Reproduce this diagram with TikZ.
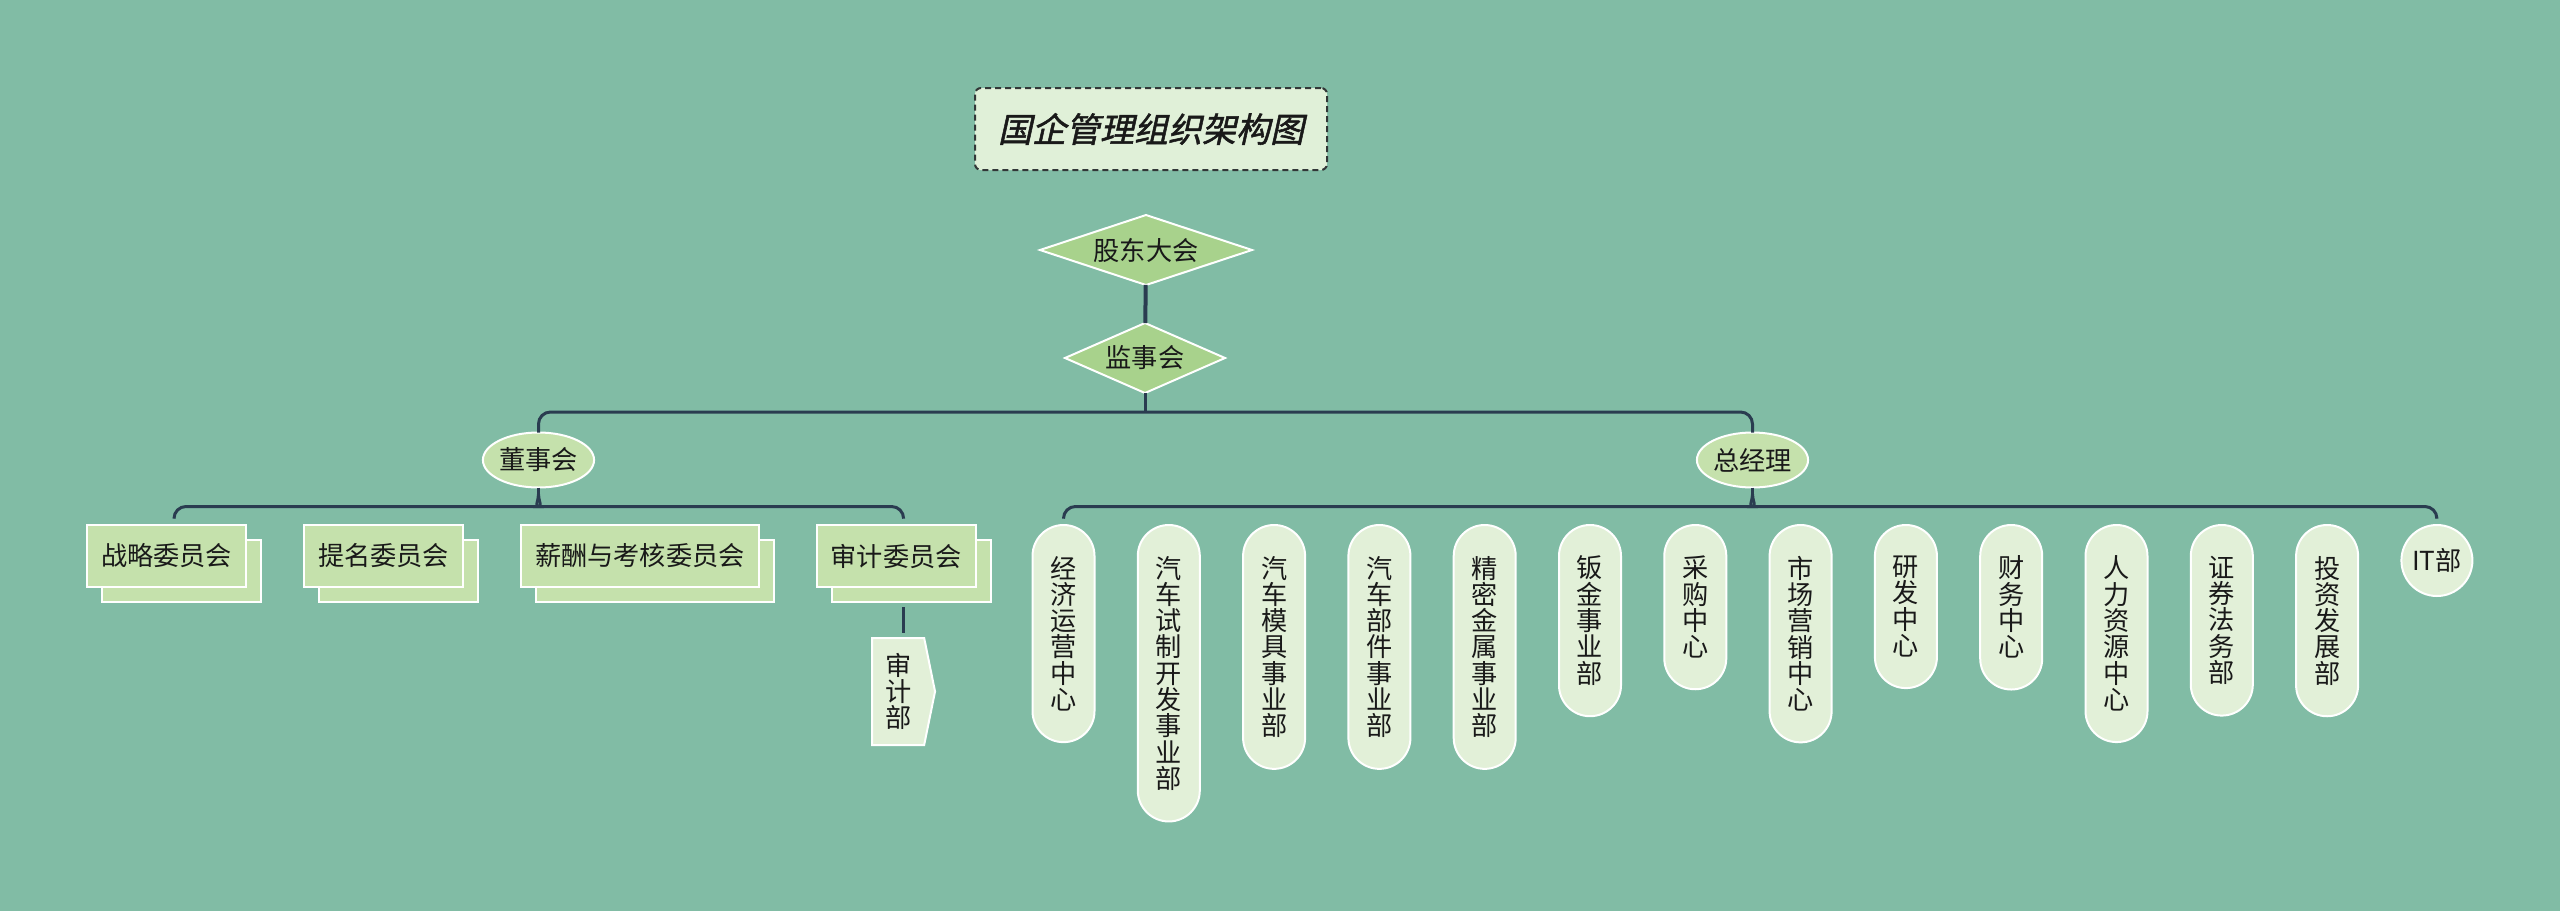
\documentclass[tikz,border=0pt]{standalone}
\usepackage{fontspec}
\setmainfont{Noto Sans CJK SC}
\newfontfamily\titlefont[FakeSlant=0.22,FakeBold=1.5]{Noto Sans CJK SC}
\usetikzlibrary{positioning,shapes.geometric,shapes.symbols,shadows}
\definecolor{bgteal}{RGB}{129,188,165}
\definecolor{rhombgreen}{RGB}{168,210,140}
\definecolor{ovalgreen}{RGB}{197,225,172}
\definecolor{pillgreen}{RGB}{226,240,216}
\definecolor{titlegreen}{RGB}{224,240,216}
\definecolor{titledark}{RGB}{50,55,55}
\definecolor{linknavy}{RGB}{42,60,80}
\definecolor{inkblack}{RGB}{25,25,25}
\tikzset{
  box/.style={draw=white,line width=1pt,outer sep=0pt,align=center,text=inkblack,
    font=\fontsize{13.1}{13.15}\selectfont},
  rhomb/.style={box,diamond,fill=rhombgreen,inner sep=0pt},
  oval/.style={box,ellipse,fill=ovalgreen,inner sep=0pt,minimum width=55.5pt,minimum height=27.5pt},
  committee/.style={box,fill=ovalgreen,minimum height=31pt,inner xsep=7pt,inner ysep=0pt,
    copy shadow={shadow xshift=7.5pt,shadow yshift=-7.25pt,fill=ovalgreen,draw=white,line width=1pt}},
  pill/.style={box,fill=pillgreen,rounded corners=15.5pt,minimum width=31pt,inner xsep=0pt,inner ysep=15.5pt},
  itbox/.style={box,circle,fill=pillgreen,minimum size=35.5pt,inner sep=0pt},
  arrowbox/.style={box,signal,signal to=east,signal pointer angle=157,fill=pillgreen,
    minimum width=31.5pt,minimum height=53.5pt,inner sep=0pt},
  headline/.style={draw=titledark,line width=1pt,dash pattern=on 3pt off 2pt,rounded corners=3pt,
    fill=titlegreen,minimum width=176pt,minimum height=41pt,text=inkblack,
    font=\titlefont\fontsize{17}{17}\selectfont},
  link/.style={draw=linknavy,line width=1.5pt}
}
\begin{document}
\begin{tikzpicture}[x=0.5pt,y=-0.5pt]
\fill[bgteal] (0,0) rectangle (2560,911);
\node[headline] (title) at (1151,129) {国企管理组织架构图};
\node[rhomb,minimum width=106pt,minimum height=35pt,aspect=3] (gdh) at (1146,250) {股东大会};
\node[rhomb,minimum width=80pt,minimum height=35pt,aspect=2.3] (jsh) at (1145,358) {监事会};
\node[oval] (dsh) at (538.5,460) {董事会};
\node[oval] (zjl) at (1752.5,460) {总经理};
% committees under the board
\node[committee] (zl) at (166.5,556) {战略委员会};
\node[committee,right=29pt of zl] (tm) {提名委员会};
\node[committee,right=29pt of tm] (xc) {薪酬与考核委员会};
\node[committee,right=29pt of xc] (sj) {审计委员会};
\node[arrowbox,below=25.5pt of sj.south,xshift=1pt] (sjb) {审\\计\\部};
% departments under the general manager
\node[pill,anchor=north] (p1) at (1063.5,525) {经\\济\\运\\营\\中\\心};
\node[pill,right=21.65pt of p1.north east,anchor=north west] (p2) {汽\\车\\试\\制\\开\\发\\事\\业\\部};
\node[pill,right=21.65pt of p2.north east,anchor=north west] (p3) {汽\\车\\模\\具\\事\\业\\部};
\node[pill,right=21.65pt of p3.north east,anchor=north west] (p4) {汽\\车\\部\\件\\事\\业\\部};
\node[pill,right=21.65pt of p4.north east,anchor=north west] (p5) {精\\密\\金\\属\\事\\业\\部};
\node[pill,right=21.65pt of p5.north east,anchor=north west] (p6) {钣\\金\\事\\业\\部};
\node[pill,right=21.65pt of p6.north east,anchor=north west] (p7) {采\\购\\中\\心};
\node[pill,right=21.65pt of p7.north east,anchor=north west] (p8) {市\\场\\营\\销\\中\\心};
\node[pill,right=21.65pt of p8.north east,anchor=north west] (p9) {研\\发\\中\\心};
\node[pill,right=21.65pt of p9.north east,anchor=north west] (p10) {财\\务\\中\\心};
\node[pill,right=21.65pt of p10.north east,anchor=north west] (p11) {人\\力\\资\\源\\中\\心};
\node[pill,right=21.65pt of p11.north east,anchor=north west] (p12) {证\\券\\法\\务\\部};
\node[pill,right=21.65pt of p12.north east,anchor=north west] (p13) {投\\资\\发\\展\\部};
\node[itbox,anchor=north] (pit) at ([xshift=39.4pt]p13.north east) {IT部};
% connectors
\draw[link,line width=2pt] (gdh) -- (jsh);
\coordinate (mbar) at ([yshift=-9.5pt]jsh.south);
\draw[link] (jsh.south) -- (mbar);
\draw[link,rounded corners=6pt] (dsh.north) |- (mbar) -| (zjl.north);
\coordinate (dtip) at ([yshift=-3.5pt]dsh.south);
\draw[link] (dsh.south) -- (dtip);
\draw[link] ([xshift=3.75pt,yshift=3.5pt]zl.north) [rounded corners=6pt] |- ([xshift=-6pt,yshift=-6pt]dtip)
  [sharp corners] .. controls +(4pt,0pt) and +(0pt,-3pt) .. (dtip);
\draw[link] ([xshift=3.75pt,yshift=3.5pt]sj.north) [rounded corners=6pt] |- ([xshift=6pt,yshift=-6pt]dtip)
  [sharp corners] .. controls +(-4pt,0pt) and +(0pt,-3pt) .. (dtip);
\draw[link] ([xshift=3.75pt,yshift=-10pt]sj.south) -- ([xshift=2.75pt,yshift=2.5pt]sjb.north);
\coordinate (ztip) at ([yshift=-3.5pt]zjl.south);
\draw[link] (zjl.south) -- (ztip);
\draw[link] ([yshift=3.5pt]p1.north) [rounded corners=6pt] |- ([xshift=-6pt,yshift=-6pt]ztip)
  [sharp corners] .. controls +(4pt,0pt) and +(0pt,-3pt) .. (ztip);
\draw[link] ([yshift=3.5pt]pit.north) [rounded corners=6pt] |- ([xshift=6pt,yshift=-6pt]ztip)
  [sharp corners] .. controls +(-4pt,0pt) and +(0pt,-3pt) .. (ztip);
\end{tikzpicture}
\end{document}
